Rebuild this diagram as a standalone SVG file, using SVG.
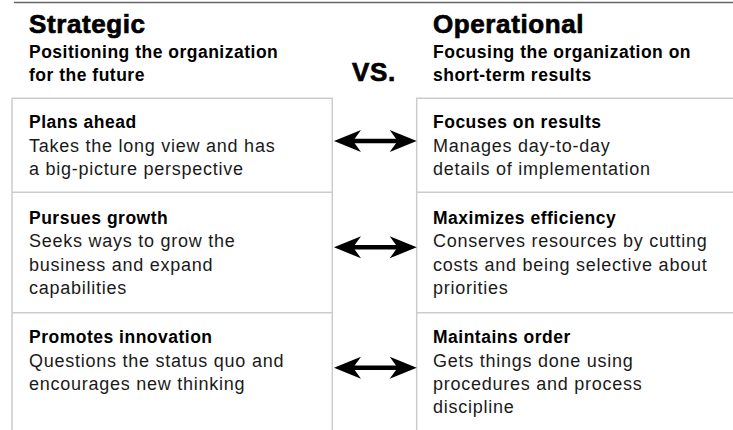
<svg xmlns="http://www.w3.org/2000/svg" width="733" height="430" viewBox="0 0 733 430">
<style>
.h{font-family:"Liberation Sans",Arial,sans-serif;font-weight:bold;font-size:26px;letter-spacing:0.6px;fill:#000;stroke:#000;stroke-width:0.7px}
.b{font-family:"Liberation Sans",Arial,sans-serif;font-weight:bold;font-size:17.5px;letter-spacing:0.5px;fill:#000}
.r{font-family:"Liberation Sans",Arial,sans-serif;font-size:18px;letter-spacing:0.75px;fill:#1a1a1a}
.box{fill:none;stroke:#cccccc;stroke-width:1.5}
.arr{stroke:#000;stroke-width:4.5;marker-start:url(#ah);marker-end:url(#ah)}
</style>
<defs>
<marker id="ah" markerUnits="userSpaceOnUse" viewBox="-30 -13 32 26" markerWidth="32" markerHeight="26" refX="-14" refY="0" orient="auto-start-reverse">
<path d="M0,0 L-27,-11 Q-22,-4 -19,0 Q-22,4 -27,11 Z" fill="#000"/>
</marker>
</defs>
<rect width="733" height="430" fill="#fff"/>
<line x1="14" y1="2.5" x2="733" y2="2.5" stroke="#666" stroke-width="1.5"/>
<g id="header-strategic">
<text class="h" x="29" y="33">Strategic</text>
<text class="b" x="29" y="58.3">Positioning the organization</text>
<text class="b" x="29" y="81">for the future</text>
</g>
<g id="header-vs">
<text class="h" x="352" y="81">VS.</text>
</g>
<g id="header-operational">
<text class="h" x="433" y="33">Operational</text>
<text class="b" x="433" y="58.3">Focusing the organization on</text>
<text class="b" x="433" y="81">short-term results</text>
</g>
<g id="strategic-column">
<path class="box" d="M12,430 V98.3 H332.3 V430 M12,192.3 H332.3 M12,312.7 H332.3"/>
</g>
<g id="operational-column">
<path class="box" d="M733,98.3 H416.7 V430 M416.7,192.3 H733 M416.7,312.7 H733"/>
</g>
<g id="plans-ahead">
<text class="b" x="29" y="128.3">Plans ahead</text>
<text class="r" x="29" y="151.7">Takes the long view and has</text>
<text class="r" x="29" y="175">a big-picture perspective</text>
</g>
<g id="pursues-growth">
<text class="b" x="29" y="224">Pursues growth</text>
<text class="r" x="29" y="247.3">Seeks ways to grow the</text>
<text class="r" x="29" y="270.7">business and expand</text>
<text class="r" x="29" y="294">capabilities</text>
</g>
<g id="promotes-innovation">
<text class="b" x="29" y="343.3">Promotes innovation</text>
<text class="r" x="29" y="366.7">Questions the status quo and</text>
<text class="r" x="29" y="390">encourages new thinking</text>
</g>
<g id="focuses-on-results">
<text class="b" x="433" y="128.3">Focuses on results</text>
<text class="r" x="433" y="151.7">Manages day-to-day</text>
<text class="r" x="433" y="175">details of implementation</text>
</g>
<g id="maximizes-efficiency">
<text class="b" x="433" y="224">Maximizes efficiency</text>
<text class="r" x="433" y="247.3">Conserves resources by cutting</text>
<text class="r" x="433" y="270.7">costs and being selective about</text>
<text class="r" x="433" y="294">priorities</text>
</g>
<g id="maintains-order">
<text class="b" x="433" y="343.3">Maintains order</text>
<text class="r" x="433" y="366.7">Gets things done using</text>
<text class="r" x="433" y="390">procedures and process</text>
<text class="r" x="433" y="413.3">discipline</text>
</g>
<g id="connectors">
<line class="arr" x1="348" y1="141" x2="402.7" y2="141"/>
<line class="arr" x1="348" y1="247.3" x2="402.7" y2="247.3"/>
<line class="arr" x1="348" y1="367.7" x2="402.7" y2="367.7"/>
</g>
</svg>
